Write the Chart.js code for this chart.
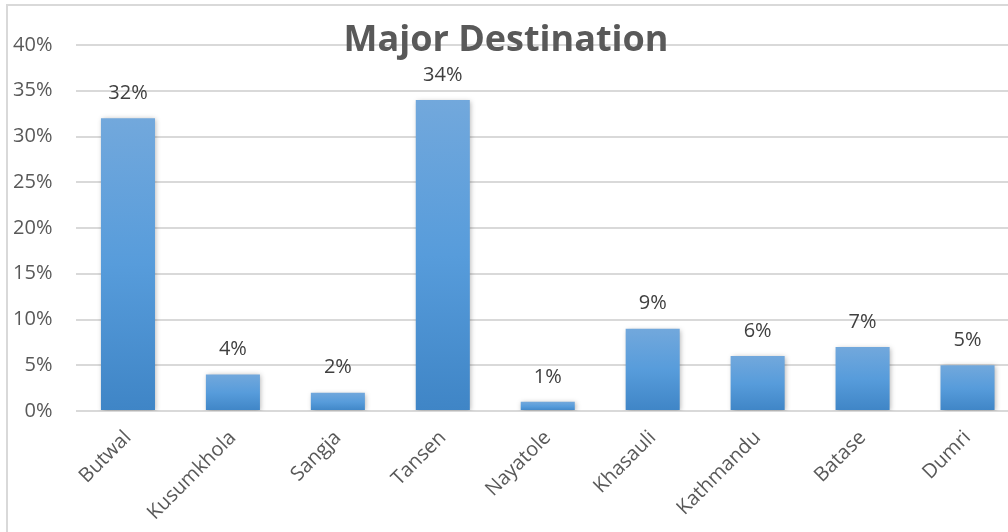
<!DOCTYPE html>
<html>
<head>
<meta charset="utf-8">
<script src="https://cdn.jsdelivr.net/npm/chart.js@4"></script>
<style>
  html, body { margin: 0; padding: 0; background: #fff; overflow: hidden; }
  #frame { position: absolute; left: 6px; top: 4px; width: 1100px; height: 600px; border: 2px solid #d9d9d9; }
  #wrap { position: absolute; left: 0; top: 0; width: 1030px; height: 532px; }
</style>
</head>
<body>
<div id="frame"></div>
<div id="wrap"><canvas id="chart"></canvas></div>
<script>
  const categories = ['Butwal', 'Kusumkhola', 'Sangja', 'Tansen', 'Nayatole', 'Khasauli', 'Kathmandu', 'Batase', 'Dumri'];
  const shares = [32, 4, 2, 34, 1, 9, 6, 7, 5];
  const yTicks = [0, 5, 10, 15, 20, 25, 30, 35, 40];

  const font = '"Open Sans", sans-serif';

  // Per-bar vertical gradient, built once the scales are laid out
  const barGradient = {
    id: 'barGradient',
    beforeDatasetsUpdate(chart) {
      const y = chart.scales.y;
      if (!y) return;
      const base = y.getPixelForValue(0);
      chart.data.datasets[0].backgroundColor = shares.map(v => {
        const top = y.getPixelForValue(v);
        const g = chart.ctx.createLinearGradient(0, top, 0, base);
        g.addColorStop(0, '#72a8dc');
        g.addColorStop(0.5, '#579cdb');
        g.addColorStop(1, '#3f85c6');
        return g;
      });
    }
  };

  // Value labels above bars
  const valueLabels = {
    id: 'valueLabels',
    afterDatasetsDraw(chart) {
      const { ctx } = chart;
      const meta = chart.getDatasetMeta(0);
      ctx.save();
      ctx.font = '20px ' + font;
      ctx.fillStyle = '#404040';
      ctx.textAlign = 'center';
      ctx.textBaseline = 'middle';
      meta.data.forEach((bar, i) => {
        ctx.fillText(shares[i] + '%', bar.x, bar.y - 25);
      });
      ctx.restore();
    }
  };

  // Title drawn over the top gridline
  const overlayTitle = {
    id: 'overlayTitle',
    afterDraw(chart) {
      const { ctx } = chart;
      ctx.save();
      ctx.font = 'bold 36px ' + font;
      ctx.fillStyle = '#595959';
      ctx.textAlign = 'center';
      ctx.textBaseline = 'alphabetic';
      ctx.fillText('Major Destination', 506, 51);
      ctx.restore();
    }
  };

  // Soft shadow under bars
  const barShadow = {
    id: 'barShadow',
    beforeDatasetsDraw(chart) {
      chart.ctx.save();
      chart.ctx.shadowColor = 'rgba(0,0,0,0.3)';
      chart.ctx.shadowBlur = 5;
      chart.ctx.shadowOffsetX = 1;
      chart.ctx.shadowOffsetY = 1;
    },
    afterDatasetsDraw(chart) {
      chart.ctx.restore();
    }
  };

  new Chart(document.getElementById('chart'), {
    type: 'bar',
    data: {
      labels: categories,
      datasets: [{
        data: shares,
        backgroundColor: '#5b9bd5',
        borderWidth: 0,
        categoryPercentage: 1,
        barPercentage: 0.515
      }]
    },
    options: {
      responsive: true,
      maintainAspectRatio: false,
      animation: false,
      layout: { padding: { top: 45, right: 10, bottom: 0, left: 0 } },
      plugins: {
        legend: { display: false },
        title: { display: false },
        tooltip: { enabled: false }
      },
      scales: {
        x: {
          grid: { display: false, drawTicks: false },
          border: { display: false },
          ticks: {
            color: '#595959',
            font: { family: font, size: 20 },
            minRotation: 45,
            maxRotation: 45,
            padding: 15,
            autoSkip: false
          },
          afterFit(scale) { scale.height = 121; }
        },
        y: {
          min: 0,
          max: 40,
          afterBuildTicks(scale) { scale.ticks = yTicks.map(v => ({ value: v })); },
          grid: { color: '#d9d9d9', lineWidth: 2, drawTicks: false },
          border: { display: false },
          ticks: {
            color: '#595959',
            font: { family: font, size: 20 },
            padding: 23,
            callback: v => v + '%'
          },
          afterFit(scale) { scale.width = 75.5; }
        }
      }
    },
    plugins: [barGradient, barShadow, valueLabels, overlayTitle]
  });
</script>
</body>
</html>
